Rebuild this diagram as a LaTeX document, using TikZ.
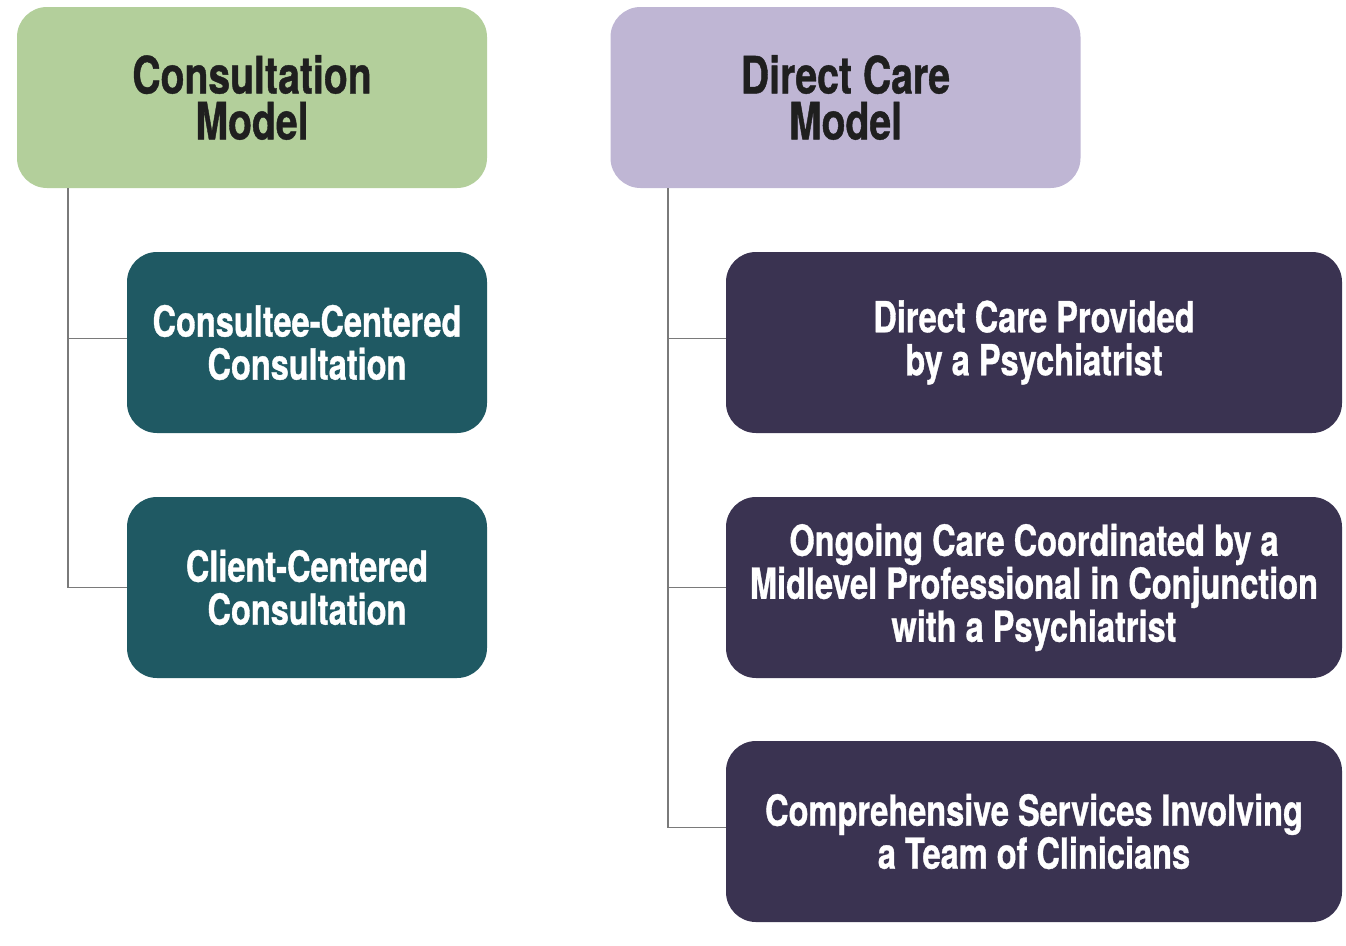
\documentclass[tikz,border=0pt]{standalone}
\usepackage{fontspec}
\setmainfont{TeX Gyre Heros}[FakeStretch=0.76, BoldFeatures={FakeBold=0.8}]
\definecolor{hgreen}{HTML}{B3CF9B}
\definecolor{hlav}{HTML}{BFB6D4}
\definecolor{cteal}{HTML}{1F5963}
\definecolor{cpurp}{HTML}{3A3351}
\definecolor{lgray}{HTML}{7A7A7A}
\begin{document}
\begin{tikzpicture}[x=1pt,y=-1pt,
  box/.style={rectangle, rounded corners=30pt, inner sep=0pt, align=center, font=\bfseries},
  head/.style={box, minimum width=470pt, minimum height=181pt, font=\fontsize{51.5}{46}\selectfont\bfseries, text=black!88},
  child/.style={box, minimum height=181pt, text=white, font=\fontsize{42.8}{43}\selectfont\bfseries,
    execute at begin node={\rule{0pt}{47pt}}},
  tealbox/.style={child, fill=cteal, minimum width=360pt},
  purpbox/.style={child, fill=cpurp, minimum width=616pt},
  conn/.style={draw=lgray, line width=1.8pt}]
\useasboundingbox (0,0) rectangle (1346,945);
\node[head, fill=hgreen] (cm) at (252,97.5) {Consultation\\Model};
\node[head, fill=hlav] (dm) at (845.5,97.5) {Direct Care\\Model};
\node[tealbox] (c1) at (307,342.5) {Consultee-Centered\\Consultation};
\node[tealbox] (c2) at (307,587.5) {Client-Centered\\Consultation};
\node[purpbox] (d1) at (1034,342.5) {Direct Care Provided\\by a Psychiatrist};
\node[purpbox] (d2) at (1034,587.5) {Ongoing Care Coordinated by a\\Midlevel Professional in Conjunction\\with a Psychiatrist};
\node[purpbox] (d3) at (1034,831.5) {Comprehensive Services Involving\\a Team of Clinicians};
\coordinate (cl) at (68,0);
\coordinate (dl) at (668,0);
\coordinate (c1w) at ([yshift=4pt]c1.west);
\coordinate (d1w) at ([yshift=4pt]d1.west);
\coordinate (d3w) at ([yshift=4pt]d3.west);
\draw[conn] (cl |- cm.south) -- (cl |- c2.west) -- (c2.west);
\draw[conn] (cl |- c1w) -- (c1w);
\draw[conn] (dl |- dm.south) -- (dl |- d3w) -- (d3w);
\draw[conn] (dl |- d1w) -- (d1w);
\draw[conn] (dl |- d2.west) -- (d2.west);
\end{tikzpicture}
\end{document}
